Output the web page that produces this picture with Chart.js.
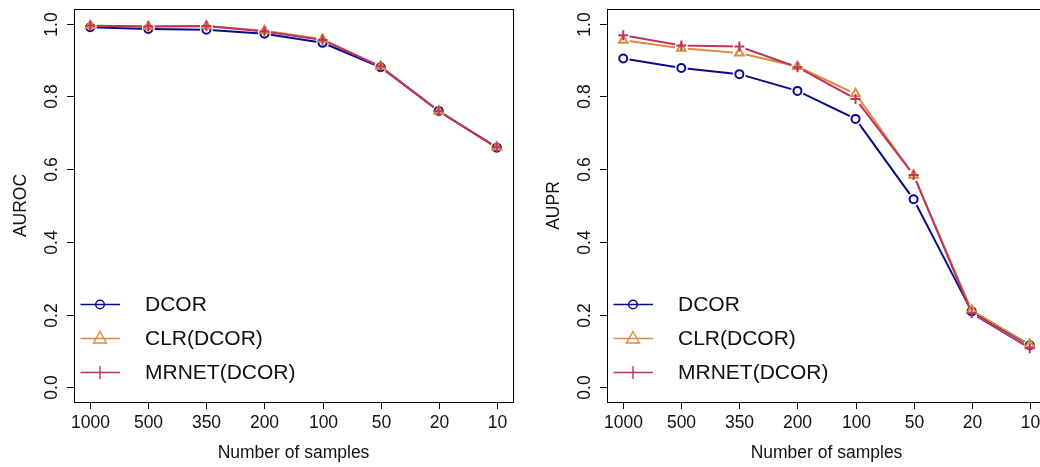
<!DOCTYPE html>
<html>
<head>
<meta charset="utf-8">
<script src="https://cdn.jsdelivr.net/npm/chart.js@4.4.1/dist/chart.umd.min.js"></script>
<style>
    html, body { margin: 0; padding: 0; background: #fff; overflow: hidden; }
    body { width: 1040px; height: 467px; position: relative; }
    canvas { position: absolute; top: 0; }
    #auroc-chart { left: 0; }
    #aupr-chart { left: 533px; }
</style>
</head>
<body>
<canvas id="auroc-chart" width="530" height="467"></canvas>
<canvas id="aupr-chart" width="530" height="467"></canvas>
<script>
    const samples = ['1000', '500', '350', '200', '100', '50', '20', '10'];
    const seriesNames = ['DCOR', 'CLR(DCOR)', 'MRNET(DCOR)'];
    const seriesColors = ['#0a0a8c', '#dc8a3c', '#bb3460'];
    const seriesMarkers = ['circle', 'triangle', 'cross'];

    const aurocDcor  = [0.990, 0.985, 0.983, 0.972, 0.947, 0.880, 0.760, 0.659];
    const aurocClr   = [0.994, 0.992, 0.993, 0.980, 0.957, 0.882, 0.760, 0.660];
    const aurocMrnet = [0.994, 0.992, 0.993, 0.978, 0.955, 0.882, 0.759, 0.660];

    const auprDcor  = [0.904, 0.878, 0.861, 0.815, 0.738, 0.517, 0.209, 0.116];
    const auprClr   = [0.954, 0.932, 0.919, 0.882, 0.807, 0.583, 0.212, 0.118];
    const auprMrnet = [0.968, 0.940, 0.937, 0.880, 0.793, 0.584, 0.204, 0.108];

    const yTicks = [0, 0.2, 0.4, 0.6, 0.8, 1.0];
    const yTickLabels = ['0.0', '0.2', '0.4', '0.6', '0.8', '1.0'];

    const FONT = '"Liberation Sans", Arial, Helvetica, sans-serif';
    const markerSize = [4, 5, 5];

    // lines stop short of the markers, like type="b" plots
    const gapPlugin = {
        id: 'gapLines',
        beforeDatasetDraw(chart, args) {
            const ds = chart.data.datasets[args.index];
            if (!ds.gapLine) return;
            const ctx = chart.ctx;
            ctx.save();
            ctx.beginPath();
            ctx.rect(0, 0, chart.width, chart.height);
            args.meta.data.forEach(p => {
                ctx.moveTo(p.x + 6.5, p.y);
                ctx.arc(p.x, p.y, 6.5, 0, Math.PI * 2);
            });
            ctx.clip('evenodd');
        },
        afterDatasetDraw(chart, args) {
            if (chart.data.datasets[args.index].gapLine) chart.ctx.restore();
        }
    };

    // box, ticks, labels, titles and legend drawn from the chart's scales
    const framePlugin = {
        id: 'frame',
        afterDraw(chart) {
            const ctx = chart.ctx;
            const area = chart.chartArea;
            const xs = chart.scales.x;
            const ys = chart.scales.y;
            const yTitle = chart.options.plugins.frame.yTitle;
            ctx.save();
            ctx.strokeStyle = '#000';
            ctx.lineWidth = 1;
            ctx.strokeRect(area.left + 0.5, area.top + 0.5, area.right - area.left, area.bottom - area.top);

            ctx.fillStyle = '#111';
            ctx.font = '17.5px ' + FONT;
            ctx.textAlign = 'center';
            ctx.textBaseline = 'middle';

            // x axis
            samples.forEach((s, i) => {
                const px = Math.round(xs.getPixelForValue(i + 1)) + 0.5;
                ctx.beginPath();
                ctx.moveTo(px, area.bottom);
                ctx.lineTo(px, area.bottom + 7);
                ctx.stroke();
                ctx.fillText(s, px, area.bottom + 21.5);
            });
            ctx.fillText('Number of samples', (area.left + area.right) / 2, area.bottom + 51);

            // y axis
            yTicks.forEach((v, i) => {
                const py = Math.round(ys.getPixelForValue(v)) + 0.5;
                ctx.beginPath();
                ctx.moveTo(area.left - 7, py);
                ctx.lineTo(area.left, py);
                ctx.stroke();
                ctx.save();
                ctx.translate(area.left - 22, py);
                ctx.rotate(-Math.PI / 2);
                ctx.fillText(yTickLabels[i], 0, 0);
                ctx.restore();
            });
            ctx.save();
            ctx.translate(area.left - 52.5, (area.top + area.bottom) / 2);
            ctx.rotate(-Math.PI / 2);
            ctx.fillText(yTitle, 0, 0);
            ctx.restore();

            // legend
            const rows = [304.5, 338.5, 372.5];
            ctx.font = '21px ' + FONT;
            ctx.textAlign = 'left';
            seriesNames.forEach((name, i) => {
                const y = rows[i];
                const x0 = area.left + 6.5, x1 = area.left + 46, xm = area.left + 26;
                ctx.strokeStyle = seriesColors[i];
                ctx.lineWidth = 1.4;
                ctx.beginPath();
                ctx.moveTo(x0, y);
                ctx.lineTo(x1, y);
                ctx.stroke();
                ctx.beginPath();
                if (seriesMarkers[i] === 'circle') {
                    ctx.arc(xm, y, 4.3, 0, Math.PI * 2);
                } else if (seriesMarkers[i] === 'triangle') {
                    ctx.moveTo(xm, y - 7);
                    ctx.lineTo(xm + 6.5, y + 4.5);
                    ctx.lineTo(xm - 6.5, y + 4.5);
                    ctx.closePath();
                } else {
                    ctx.moveTo(xm, y - 6.5);
                    ctx.lineTo(xm, y + 6.5);
                }
                ctx.stroke();
                ctx.fillStyle = '#111';
                ctx.fillText(name, area.left + 71, y + 1);
            });
            ctx.restore();
        }
    };

    function makeDatasets(seriesValues) {
        const sets = [];
        seriesValues.forEach((vals, i) => {
            const pts = vals.map((v, j) => ({ x: j + 1, y: v }));
            sets.push({
                label: seriesNames[i],
                data: pts,
                gapLine: true,
                borderColor: seriesColors[i],
                borderWidth: 2,
                pointRadius: 0,
                showLine: true,
                order: 6 - i * 2
            });
            sets.push({
                label: seriesNames[i] + ' points',
                data: pts,
                showLine: false,
                borderColor: seriesColors[i],
                backgroundColor: 'rgba(0,0,0,0)',
                pointStyle: seriesMarkers[i],
                pointRadius: markerSize[i],
                pointBorderWidth: 2,
                pointBorderColor: seriesColors[i],
                pointBackgroundColor: 'rgba(0,0,0,0)',
                order: 5 - i * 2
            });
        });
        return sets;
    }

    function makeChart(id, seriesValues, yTitle) {
        return new Chart(document.getElementById(id).getContext('2d'), {
            type: 'line',
            data: { datasets: makeDatasets(seriesValues) },
            options: {
                responsive: false,
                animation: false,
                layout: { padding: { left: 74, top: 9, right: 17, bottom: 65 } },
                scales: {
                    x: { type: 'linear', min: 0.72, max: 8.28, display: false },
                    y: { type: 'linear', min: -0.04, max: 1.04, display: false }
                },
                plugins: {
                    legend: { display: false },
                    tooltip: { enabled: false },
                    frame: { yTitle: yTitle }
                }
            },
            plugins: [gapPlugin, framePlugin]
        });
    }

    makeChart('auroc-chart', [aurocDcor, aurocClr, aurocMrnet], 'AUROC');
    makeChart('aupr-chart', [auprDcor, auprClr, auprMrnet], 'AUPR');
</script>
</body>
</html>
